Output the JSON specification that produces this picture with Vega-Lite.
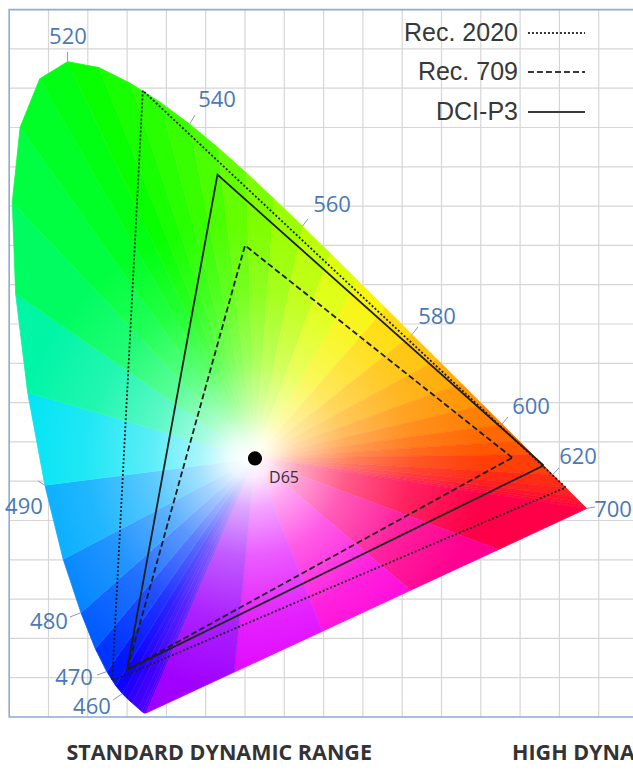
{
"$schema":"https://vega.github.io/schema/vega-lite/v6.json",
"width":633,"height":771,"autosize":"none","padding":0,"background":"white",
"config":{"view":{"stroke":null}},
"datasets":{
"gx":[{"v":0.05},{"v":0.1},{"v":0.15},{"v":0.2},{"v":0.25},{"v":0.3},{"v":0.35},{"v":0.4},{"v":0.45},{"v":0.5},{"v":0.55},{"v":0.6},{"v":0.65},{"v":0.7},{"v":0.75}],
"gy":[{"v":0.05},{"v":0.1},{"v":0.15},{"v":0.2},{"v":0.25},{"v":0.3},{"v":0.35},{"v":0.4},{"v":0.45},{"v":0.5},{"v":0.55},{"v":0.6},{"v":0.65},{"v":0.7},{"v":0.75},{"v":0.8},{"v":0.85}],
"locus":[{"nm":380,"x":0.1741,"y":0.005},{"nm":420,"x":0.1714,"y":0.0051},{"nm":430,"x":0.1689,"y":0.0069},{"nm":440,"x":0.1644,"y":0.0109},{"nm":450,"x":0.1566,"y":0.0177},{"nm":455,"x":0.151,"y":0.0227},{"nm":460,"x":0.144,"y":0.0297},{"nm":465,"x":0.1355,"y":0.0399},{"nm":470,"x":0.1241,"y":0.0578},{"nm":475,"x":0.1096,"y":0.0868},{"nm":480,"x":0.0913,"y":0.1327},{"nm":485,"x":0.0687,"y":0.2007},{"nm":490,"x":0.0454,"y":0.295},{"nm":495,"x":0.0235,"y":0.4127},{"nm":500,"x":0.0082,"y":0.5384},{"nm":505,"x":0.0039,"y":0.6548},{"nm":510,"x":0.0139,"y":0.7502},{"nm":515,"x":0.0389,"y":0.812},{"nm":520,"x":0.0743,"y":0.8338},{"nm":525,"x":0.1142,"y":0.8262},{"nm":530,"x":0.1547,"y":0.8059},{"nm":535,"x":0.1929,"y":0.7816},{"nm":540,"x":0.2296,"y":0.7543},{"nm":545,"x":0.2658,"y":0.7243},{"nm":550,"x":0.3016,"y":0.6923},{"nm":555,"x":0.3373,"y":0.6589},{"nm":560,"x":0.3731,"y":0.6245},{"nm":565,"x":0.4087,"y":0.5896},{"nm":570,"x":0.4441,"y":0.5547},{"nm":575,"x":0.4788,"y":0.5202},{"nm":580,"x":0.5125,"y":0.4866},{"nm":585,"x":0.5448,"y":0.4544},{"nm":590,"x":0.5752,"y":0.4242},{"nm":595,"x":0.6029,"y":0.3965},{"nm":600,"x":0.627,"y":0.3725},{"nm":605,"x":0.6482,"y":0.3514},{"nm":610,"x":0.6658,"y":0.334},{"nm":620,"x":0.6915,"y":0.3083},{"nm":630,"x":0.7079,"y":0.292},{"nm":640,"x":0.719,"y":0.2809},{"nm":650,"x":0.726,"y":0.274},{"nm":660,"x":0.73,"y":0.27},{"nm":680,"x":0.7334,"y":0.2666},{"nm":700,"x":0.7347,"y":0.2653}],
"tri":[
{"t":1,"v":0,"x":0.3127,"y":0.329,"h":400},{"t":1,"v":1,"x":0.1741,"y":0.005,"h":400},{"t":1,"v":2,"x":0.1714,"y":0.0051,"h":400},
{"t":2,"v":0,"x":0.3127,"y":0.329,"h":425},{"t":2,"v":1,"x":0.1714,"y":0.0051,"h":425},{"t":2,"v":2,"x":0.1689,"y":0.0069,"h":425},
{"t":3,"v":0,"x":0.3127,"y":0.329,"h":435},{"t":3,"v":1,"x":0.1689,"y":0.0069,"h":435},{"t":3,"v":2,"x":0.1644,"y":0.0109,"h":435},
{"t":4,"v":0,"x":0.3127,"y":0.329,"h":445},{"t":4,"v":1,"x":0.1644,"y":0.0109,"h":445},{"t":4,"v":2,"x":0.1566,"y":0.0177,"h":445},
{"t":5,"v":0,"x":0.3127,"y":0.329,"h":452.5},{"t":5,"v":1,"x":0.1566,"y":0.0177,"h":452.5},{"t":5,"v":2,"x":0.151,"y":0.0227,"h":452.5},
{"t":6,"v":0,"x":0.3127,"y":0.329,"h":457.5},{"t":6,"v":1,"x":0.151,"y":0.0227,"h":457.5},{"t":6,"v":2,"x":0.144,"y":0.0297,"h":457.5},
{"t":7,"v":0,"x":0.3127,"y":0.329,"h":462.5},{"t":7,"v":1,"x":0.144,"y":0.0297,"h":462.5},{"t":7,"v":2,"x":0.1355,"y":0.0399,"h":462.5},
{"t":8,"v":0,"x":0.3127,"y":0.329,"h":467.5},{"t":8,"v":1,"x":0.1355,"y":0.0399,"h":467.5},{"t":8,"v":2,"x":0.1241,"y":0.0578,"h":467.5},
{"t":9,"v":0,"x":0.3127,"y":0.329,"h":472.5},{"t":9,"v":1,"x":0.1241,"y":0.0578,"h":472.5},{"t":9,"v":2,"x":0.1096,"y":0.0868,"h":472.5},
{"t":10,"v":0,"x":0.3127,"y":0.329,"h":477.5},{"t":10,"v":1,"x":0.1096,"y":0.0868,"h":477.5},{"t":10,"v":2,"x":0.0913,"y":0.1327,"h":477.5},
{"t":11,"v":0,"x":0.3127,"y":0.329,"h":482.5},{"t":11,"v":1,"x":0.0913,"y":0.1327,"h":482.5},{"t":11,"v":2,"x":0.0687,"y":0.2007,"h":482.5},
{"t":12,"v":0,"x":0.3127,"y":0.329,"h":487.5},{"t":12,"v":1,"x":0.0687,"y":0.2007,"h":487.5},{"t":12,"v":2,"x":0.0454,"y":0.295,"h":487.5},
{"t":13,"v":0,"x":0.3127,"y":0.329,"h":492.5},{"t":13,"v":1,"x":0.0454,"y":0.295,"h":492.5},{"t":13,"v":2,"x":0.0235,"y":0.4127,"h":492.5},
{"t":14,"v":0,"x":0.3127,"y":0.329,"h":497.5},{"t":14,"v":1,"x":0.0235,"y":0.4127,"h":497.5},{"t":14,"v":2,"x":0.0082,"y":0.5384,"h":497.5},
{"t":15,"v":0,"x":0.3127,"y":0.329,"h":502.5},{"t":15,"v":1,"x":0.0082,"y":0.5384,"h":502.5},{"t":15,"v":2,"x":0.0039,"y":0.6548,"h":502.5},
{"t":16,"v":0,"x":0.3127,"y":0.329,"h":507.5},{"t":16,"v":1,"x":0.0039,"y":0.6548,"h":507.5},{"t":16,"v":2,"x":0.0139,"y":0.7502,"h":507.5},
{"t":17,"v":0,"x":0.3127,"y":0.329,"h":512.5},{"t":17,"v":1,"x":0.0139,"y":0.7502,"h":512.5},{"t":17,"v":2,"x":0.0389,"y":0.812,"h":512.5},
{"t":18,"v":0,"x":0.3127,"y":0.329,"h":517.5},{"t":18,"v":1,"x":0.0389,"y":0.812,"h":517.5},{"t":18,"v":2,"x":0.0743,"y":0.8338,"h":517.5},
{"t":19,"v":0,"x":0.3127,"y":0.329,"h":522.5},{"t":19,"v":1,"x":0.0743,"y":0.8338,"h":522.5},{"t":19,"v":2,"x":0.1142,"y":0.8262,"h":522.5},
{"t":20,"v":0,"x":0.3127,"y":0.329,"h":527.5},{"t":20,"v":1,"x":0.1142,"y":0.8262,"h":527.5},{"t":20,"v":2,"x":0.1547,"y":0.8059,"h":527.5},
{"t":21,"v":0,"x":0.3127,"y":0.329,"h":532.5},{"t":21,"v":1,"x":0.1547,"y":0.8059,"h":532.5},{"t":21,"v":2,"x":0.1929,"y":0.7816,"h":532.5},
{"t":22,"v":0,"x":0.3127,"y":0.329,"h":537.5},{"t":22,"v":1,"x":0.1929,"y":0.7816,"h":537.5},{"t":22,"v":2,"x":0.2296,"y":0.7543,"h":537.5},
{"t":23,"v":0,"x":0.3127,"y":0.329,"h":542.5},{"t":23,"v":1,"x":0.2296,"y":0.7543,"h":542.5},{"t":23,"v":2,"x":0.2658,"y":0.7243,"h":542.5},
{"t":24,"v":0,"x":0.3127,"y":0.329,"h":547.5},{"t":24,"v":1,"x":0.2658,"y":0.7243,"h":547.5},{"t":24,"v":2,"x":0.3016,"y":0.6923,"h":547.5},
{"t":25,"v":0,"x":0.3127,"y":0.329,"h":552.5},{"t":25,"v":1,"x":0.3016,"y":0.6923,"h":552.5},{"t":25,"v":2,"x":0.3373,"y":0.6589,"h":552.5},
{"t":26,"v":0,"x":0.3127,"y":0.329,"h":557.5},{"t":26,"v":1,"x":0.3373,"y":0.6589,"h":557.5},{"t":26,"v":2,"x":0.3731,"y":0.6245,"h":557.5},
{"t":27,"v":0,"x":0.3127,"y":0.329,"h":562.5},{"t":27,"v":1,"x":0.3731,"y":0.6245,"h":562.5},{"t":27,"v":2,"x":0.4087,"y":0.5896,"h":562.5},
{"t":28,"v":0,"x":0.3127,"y":0.329,"h":567.5},{"t":28,"v":1,"x":0.4087,"y":0.5896,"h":567.5},{"t":28,"v":2,"x":0.4441,"y":0.5547,"h":567.5},
{"t":29,"v":0,"x":0.3127,"y":0.329,"h":572.5},{"t":29,"v":1,"x":0.4441,"y":0.5547,"h":572.5},{"t":29,"v":2,"x":0.4788,"y":0.5202,"h":572.5},
{"t":30,"v":0,"x":0.3127,"y":0.329,"h":577.5},{"t":30,"v":1,"x":0.4788,"y":0.5202,"h":577.5},{"t":30,"v":2,"x":0.5125,"y":0.4866,"h":577.5},
{"t":31,"v":0,"x":0.3127,"y":0.329,"h":582.5},{"t":31,"v":1,"x":0.5125,"y":0.4866,"h":582.5},{"t":31,"v":2,"x":0.5448,"y":0.4544,"h":582.5},
{"t":32,"v":0,"x":0.3127,"y":0.329,"h":587.5},{"t":32,"v":1,"x":0.5448,"y":0.4544,"h":587.5},{"t":32,"v":2,"x":0.5752,"y":0.4242,"h":587.5},
{"t":33,"v":0,"x":0.3127,"y":0.329,"h":592.5},{"t":33,"v":1,"x":0.5752,"y":0.4242,"h":592.5},{"t":33,"v":2,"x":0.6029,"y":0.3965,"h":592.5},
{"t":34,"v":0,"x":0.3127,"y":0.329,"h":597.5},{"t":34,"v":1,"x":0.6029,"y":0.3965,"h":597.5},{"t":34,"v":2,"x":0.627,"y":0.3725,"h":597.5},
{"t":35,"v":0,"x":0.3127,"y":0.329,"h":602.5},{"t":35,"v":1,"x":0.627,"y":0.3725,"h":602.5},{"t":35,"v":2,"x":0.6482,"y":0.3514,"h":602.5},
{"t":36,"v":0,"x":0.3127,"y":0.329,"h":607.5},{"t":36,"v":1,"x":0.6482,"y":0.3514,"h":607.5},{"t":36,"v":2,"x":0.6658,"y":0.334,"h":607.5},
{"t":37,"v":0,"x":0.3127,"y":0.329,"h":615},{"t":37,"v":1,"x":0.6658,"y":0.334,"h":615},{"t":37,"v":2,"x":0.6915,"y":0.3083,"h":615},
{"t":38,"v":0,"x":0.3127,"y":0.329,"h":625},{"t":38,"v":1,"x":0.6915,"y":0.3083,"h":625},{"t":38,"v":2,"x":0.7079,"y":0.292,"h":625},
{"t":39,"v":0,"x":0.3127,"y":0.329,"h":635},{"t":39,"v":1,"x":0.7079,"y":0.292,"h":635},{"t":39,"v":2,"x":0.719,"y":0.2809,"h":635},
{"t":40,"v":0,"x":0.3127,"y":0.329,"h":645},{"t":40,"v":1,"x":0.719,"y":0.2809,"h":645},{"t":40,"v":2,"x":0.726,"y":0.274,"h":645},
{"t":41,"v":0,"x":0.3127,"y":0.329,"h":655},{"t":41,"v":1,"x":0.726,"y":0.274,"h":655},{"t":41,"v":2,"x":0.73,"y":0.27,"h":655},
{"t":42,"v":0,"x":0.3127,"y":0.329,"h":670},{"t":42,"v":1,"x":0.73,"y":0.27,"h":670},{"t":42,"v":2,"x":0.7334,"y":0.2666,"h":670},
{"t":43,"v":0,"x":0.3127,"y":0.329,"h":690},{"t":43,"v":1,"x":0.7334,"y":0.2666,"h":690},{"t":43,"v":2,"x":0.7347,"y":0.2653,"h":690},
{"t":44,"v":0,"x":0.3127,"y":0.329,"h":710},{"t":44,"v":1,"x":0.7347,"y":0.2653,"h":710},{"t":44,"v":2,"x":0.6226,"y":0.2132,"h":710},
{"t":45,"v":0,"x":0.3127,"y":0.329,"h":730},{"t":45,"v":1,"x":0.6226,"y":0.2132,"h":730},{"t":45,"v":2,"x":0.5105,"y":0.1612,"h":730},
{"t":46,"v":0,"x":0.3127,"y":0.329,"h":750},{"t":46,"v":1,"x":0.5105,"y":0.1612,"h":750},{"t":46,"v":2,"x":0.3983,"y":0.1091,"h":750},
{"t":47,"v":0,"x":0.3127,"y":0.329,"h":770},{"t":47,"v":1,"x":0.3983,"y":0.1091,"h":770},{"t":47,"v":2,"x":0.2862,"y":0.0571,"h":770},
{"t":48,"v":0,"x":0.3127,"y":0.329,"h":790},{"t":48,"v":1,"x":0.2862,"y":0.0571,"h":790},{"t":48,"v":2,"x":0.1741,"y":0.005,"h":790}
],
"gamut":[
{"g":"Rec. 2020","v":0,"x":0.708,"y":0.292},{"g":"Rec. 2020","v":1,"x":0.17,"y":0.797},{"g":"Rec. 2020","v":2,"x":0.131,"y":0.046},{"g":"Rec. 2020","v":3,"x":0.708,"y":0.292},
{"g":"Rec. 709","v":0,"x":0.64,"y":0.33},{"g":"Rec. 709","v":1,"x":0.3,"y":0.6},{"g":"Rec. 709","v":2,"x":0.15,"y":0.06},{"g":"Rec. 709","v":3,"x":0.64,"y":0.33},
{"g":"DCI-P3","v":0,"x":0.68,"y":0.32},{"g":"DCI-P3","v":1,"x":0.265,"y":0.69},{"g":"DCI-P3","v":2,"x":0.15,"y":0.06},{"g":"DCI-P3","v":3,"x":0.68,"y":0.32}
],
"ticks":[
{"x":0.0743,"y":0.8338,"x2":0.0743,"y2":0.846},{"x":0.2296,"y":0.7543,"x2":0.2363,"y2":0.7658},{"x":0.3731,"y":0.6245,"x2":0.3801,"y2":0.6336},{"x":0.5125,"y":0.4866,"x2":0.5201,"y2":0.4962},{"x":0.627,"y":0.3725,"x2":0.6346,"y2":0.3817},{"x":0.6915,"y":0.3083,"x2":0.6995,"y2":0.3168},{"x":0.7347,"y":0.2653,"x2":0.7453,"y2":0.2672},{"x":0.0454,"y":0.295,"x2":0.0366,"y2":0.3003},{"x":0.0913,"y":0.1327,"x2":0.0773,"y2":0.1272},{"x":0.1241,"y":0.0578,"x2":0.1117,"y2":0.0534},{"x":0.144,"y":0.0297,"x2":0.1321,"y2":0.0216}
],
"labels":[
{"t":"520","x":0.0748,"y":0.8651},{"t":"540","x":0.2644,"y":0.785},{"t":"560","x":0.4108,"y":0.6514},{"t":"580","x":0.5443,"y":0.5089},{"t":"600","x":0.6639,"y":0.3944},{"t":"620","x":0.7237,"y":0.3308},{"t":"700","x":0.7682,"y":0.2634},{"t":"490","x":0.0188,"y":0.2672},{"t":"480","x":0.0506,"y":0.1209},{"t":"470","x":0.0825,"y":0.0496},{"t":"460","x":0.1053,"y":0.0127}
],
"legend":[{"g":"Rec. 2020","ly":0.8702},{"g":"Rec. 709","ly":0.8206},{"g":"DCI-P3","ly":0.7697}],
"notes":[{"t":"STANDARD DYNAMIC RANGE","x":0.0729,"y":-0.0471},{"t":"HIGH DYNAMIC RANGE","x":0.6397,"y":-0.0471}]
},
"layer":[
{"data":{"name":"gx"},"mark":{"type":"rule","stroke":"#d6d6d6","strokeWidth":1.2},
 "encoding":{"x":{"field":"v","type":"quantitative","scale":{"domain":[-0.0117,0.79364],"nice":false,"zero":false},"axis":null},
  "y":{"datum":0,"type":"quantitative","scale":{"domain":[-0.0687,0.91221],"nice":false,"zero":false},"axis":null},"y2":{"datum":0.9}}},
{"data":{"name":"gy"},"mark":{"type":"rule","stroke":"#d6d6d6","strokeWidth":1.2},
 "encoding":{"y":{"field":"v","type":"quantitative","axis":null},"x":{"datum":0,"type":"quantitative","axis":null},"x2":{"datum":0.9}}},
{"data":{"values":[{}]},"mark":{"type":"rect","filled":false,"stroke":"#8eaad6","strokeWidth":1.6},
 "encoding":{"x":{"datum":0,"type":"quantitative","axis":null},"x2":{"datum":0.9},"y":{"datum":0,"type":"quantitative","axis":null},"y2":{"datum":0.9}}},
{"data":{"name":"tri"},"mark":{"type":"line","strokeWidth":0.8,"strokeJoin":"round"},
 "encoding":{"x":{"field":"x","type":"quantitative","axis":null},"y":{"field":"y","type":"quantitative","axis":null},
  "detail":{"field":"t","type":"nominal"},"order":{"field":"v","type":"quantitative"},
  "fill":{"field":"h","type":"quantitative","legend":null,"scale":{"type":"linear","interpolate":"rgb","domain":[380,440,455,462,468,473,478,483,488,491,494,497,500,505,510,518,523,530,540,550,560,568,574,580,590,600,610,620,650,700,710,730,750,770,790,800],"range":["#7000ff","#4800ff","#2a00ff","#1000ff","#0018ff","#0038ff","#0060ff","#0088ff","#00b0ff","#00d8ff","#00f0e8","#00f4b0","#00f870","#00ff50","#00ff30","#00ff10","#08ff00","#20ff00","#40ff00","#70ff00","#a8ff00","#e0ff00","#fff000","#ffcc00","#ffa000","#ff7400","#ff4c00","#ff3010","#ff1030","#ff0038","#ff0048","#ff0090","#ff00d8","#e000ff","#a000ff","#8800ff"]}},
  "stroke":{"field":"h","type":"quantitative","legend":null,"scale":{"type":"linear","interpolate":"rgb","domain":[380,440,455,462,468,473,478,483,488,491,494,497,500,505,510,518,523,530,540,550,560,568,574,580,590,600,610,620,650,700,710,730,750,770,790,800],"range":["#7000ff","#4800ff","#2a00ff","#1000ff","#0018ff","#0038ff","#0060ff","#0088ff","#00b0ff","#00d8ff","#00f0e8","#00f4b0","#00f870","#00ff50","#00ff30","#00ff10","#08ff00","#20ff00","#40ff00","#70ff00","#a8ff00","#e0ff00","#fff000","#ffcc00","#ffa000","#ff7400","#ff4c00","#ff3010","#ff1030","#ff0038","#ff0048","#ff0090","#ff00d8","#e000ff","#a000ff","#8800ff"]}}}},
{"data":{"name":"locus"},"mark":{"type":"line","strokeOpacity":0,"fill":{"gradient":"radial","x1":0.4225,"y1":0.609,"r1":0,"x2":0.4225,"y2":0.609,"r2":0.5,"stops":[{"offset":0,"color":"rgba(255,255,255,1)"},{"offset":0.06,"color":"rgba(255,255,255,0.92)"},{"offset":0.15,"color":"rgba(255,255,255,0.66)"},{"offset":0.3,"color":"rgba(255,255,255,0.36)"},{"offset":0.5,"color":"rgba(255,255,255,0.13)"},{"offset":0.72,"color":"rgba(255,255,255,0)"}]}},
 "encoding":{"x":{"field":"x","type":"quantitative","axis":null},"y":{"field":"y","type":"quantitative","axis":null},"order":{"field":"nm","type":"quantitative"}}},
{"data":{"name":"gamut"},"mark":{"type":"line","color":"#1e1e1e","strokeWidth":1.8},
 "encoding":{"x":{"field":"x","type":"quantitative","axis":null},"y":{"field":"y","type":"quantitative","axis":null},"detail":{"field":"g","type":"nominal"},"order":{"field":"v","type":"quantitative"},
  "strokeDash":{"field":"g","type":"nominal","legend":null,"scale":{"domain":["Rec. 2020","Rec. 709","DCI-P3"],"range":[[2,2],[6,3],[1,0]]}}}},
{"data":{"name":"ticks"},"mark":{"type":"rule","stroke":"#7f9cc4","strokeWidth":1},
 "encoding":{"x":{"field":"x","type":"quantitative","axis":null},"y":{"field":"y","type":"quantitative","axis":null},"x2":{"field":"x2"},"y2":{"field":"y2"}}},
{"data":{"name":"labels"},"mark":{"type":"text","font":"Open Sans","fontSize":22,"fill":"#4a78b8","align":"center","baseline":"middle"},
 "encoding":{"x":{"field":"x","type":"quantitative","axis":null},"y":{"field":"y","type":"quantitative","axis":null},"text":{"field":"t"}}},
{"data":{"values":[{"x":0.3127,"y":0.329}]},"mark":{"type":"point","filled":true,"size":200,"color":"#000000","opacity":1},
 "encoding":{"x":{"field":"x","type":"quantitative","axis":null},"y":{"field":"y","type":"quantitative","axis":null}}},
{"data":{"values":[{"x":0.3127,"y":0.329,"t":"D65"}]},"mark":{"type":"text","font":"Open Sans","fontSize":16,"fill":"#333333","align":"center","baseline":"middle","dx":29,"dy":20},
 "encoding":{"x":{"field":"x","type":"quantitative","axis":null},"y":{"field":"y","type":"quantitative","axis":null},"text":{"field":"t"}}},
{"data":{"name":"legend"},"mark":{"type":"text","font":"Liberation Sans","fontSize":25,"fill":"#383838","align":"right","baseline":"middle"},
 "encoding":{"x":{"datum":0.6473,"type":"quantitative","axis":null},"y":{"field":"ly","type":"quantitative","axis":null},"text":{"field":"g"}}},
{"data":{"name":"legend"},"mark":{"type":"rule","color":"#383838","strokeWidth":1.8},
 "encoding":{"x":{"datum":0.66,"type":"quantitative","axis":null},"x2":{"datum":0.7326},"y":{"field":"ly","type":"quantitative","axis":null},
  "strokeDash":{"field":"g","type":"nominal","legend":null}}},
{"data":{"name":"notes"},"mark":{"type":"text","font":"Open Sans","fontWeight":"bold","fontSize":21.5,"fill":"#333333","align":"left","baseline":"middle"},
 "encoding":{"x":{"field":"x","type":"quantitative","axis":null},"y":{"field":"y","type":"quantitative","axis":null},"text":{"field":"t"}}}
]
}
